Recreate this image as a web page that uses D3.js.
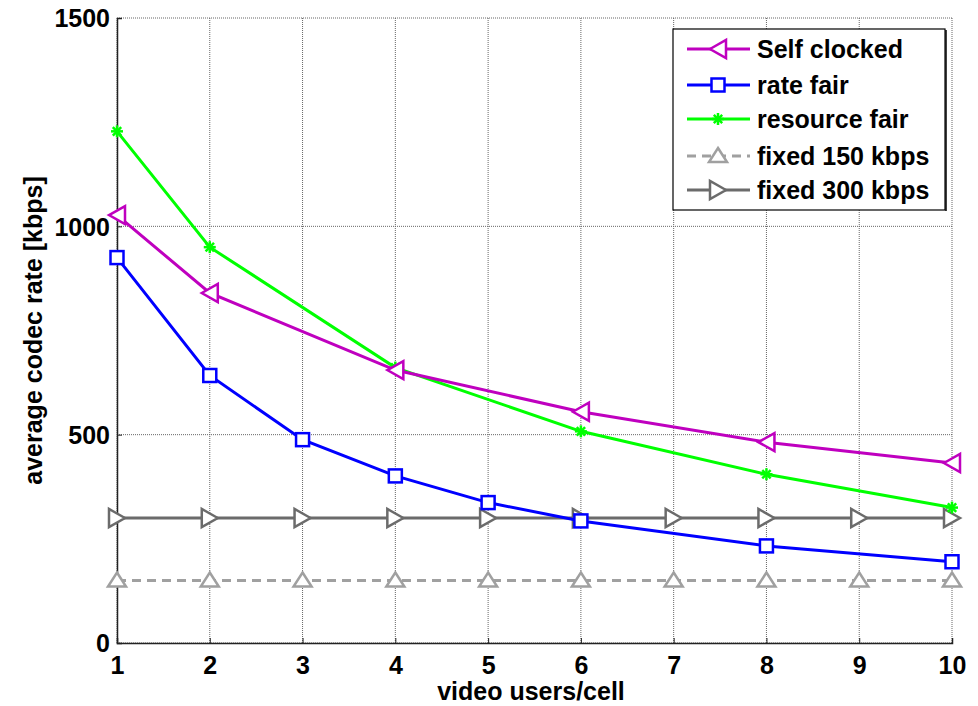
<!DOCTYPE html>
<html><head><meta charset="utf-8">
<script src="https://cdn.jsdelivr.net/npm/d3@7"></script>
<style>body{margin:0;background:#fff}svg text{font-family:"Liberation Sans",Arial,sans-serif;font-weight:bold}</style>
</head><body><svg id="c" width="978" height="706"></svg>
<script>
const xTicks = [1,2,3,4,5,6,7,8,9,10];
const yTicks = [0,500,1000,1500];
const selfX = [1,2,4,6,8,10];
const selfY = [1027,840,655,555,482,432];
const rateX = [1,2,3,4,5,6,8,10];
const rateY = [925,642,488,401,337,293,233,195];
const resX = [1,2,4,6,8,10];
const resY = [1228,950,661,508,405,325];
const fix150X = [1,2,3,4,5,6,7,8,9,10];
const fix150Y = [150,150,150,150,150,150,150,150,150,150];
const fix300X = [1,2,3,4,5,6,7,8,9,10];
const fix300Y = [300,300,300,300,300,300,300,300,300,300];
const seriesNames = ["Self clocked","rate fair","resource fair","fixed 150 kbps","fixed 300 kbps"];

const FS = 25;
const svg = d3.select("#c");
const L=117, R=952, T=18, B=643;
const x = d3.scaleLinear().domain([1,10]).range([L,R]);
const y = d3.scaleLinear().domain([0,1500]).range([B,T]);

// grid
const g = svg.append("g");
xTicks.forEach(t=>g.append("line").attr("x1",x(t)).attr("x2",x(t)).attr("y1",T).attr("y2",B)
  .attr("stroke","#666").attr("stroke-width",1).attr("stroke-dasharray","1,1"));
yTicks.forEach(t=>g.append("line").attr("x1",L).attr("x2",R).attr("y1",y(t)).attr("y2",y(t))
  .attr("stroke","#666").attr("stroke-width",1).attr("stroke-dasharray","1,1"));

// axes
const xa = svg.append("g").attr("transform",`translate(0,${B})`)
  .call(d3.axisBottom(x).tickValues(xTicks).tickSize(-5).tickPadding(13).tickFormat(d3.format("d")));
const ya = svg.append("g").attr("transform",`translate(${L},0)`)
  .call(d3.axisLeft(y).tickValues(yTicks).tickSize(-5).tickPadding(7).tickFormat(d3.format("d")));
[xa,ya].forEach(a=>{a.select(".domain").attr("stroke","#222").attr("stroke-width",1.5);
  a.selectAll(".tick line").attr("stroke","#222");
  a.selectAll("text").attr("font-size",FS).attr("fill","#000").attr("font-family","Liberation Sans, Arial").attr("font-weight","bold");});
ya.selectAll("text").attr("dy","0.35em");

svg.append("text").attr("x",531).attr("y",700).attr("text-anchor","middle").attr("font-size",FS).text("video users/cell");
svg.append("text").attr("transform",`translate(42,${(T+B)/2}) rotate(-90)`).attr("text-anchor","middle").attr("font-size",FS).text("average codec rate [kbps]");

function marker(sel, type, color){
  const s=8;
  if(type==="left") sel.append("path").attr("d",`M${-s},0L${s},${-s-1}L${s},${s+1}Z`).attr("fill","#fff").attr("stroke",color).attr("stroke-width",2.5);
  else if(type==="right") sel.append("path").attr("d",`M${s},0L${-s},${-s-1}L${-s},${s+1}Z`).attr("fill","#fff").attr("stroke",color).attr("stroke-width",2.5);
  else if(type==="up") sel.append("path").attr("d",`M0,${-s}L${s+1},${s*0.75}L${-s-1},${s*0.75}Z`).attr("fill","#fff").attr("stroke",color).attr("stroke-width",2.5);
  else if(type==="square") sel.append("rect").attr("x",-6.5).attr("y",-6.5).attr("width",13).attr("height",13).attr("fill","#fff").attr("stroke",color).attr("stroke-width",2.5);
  else if(type==="star"){
    const r=6;
    [[-r,0,r,0],[0,-r,0,r],[-r*0.7,-r*0.7,r*0.7,r*0.7],[-r*0.7,r*0.7,r*0.7,-r*0.7]].forEach(l=>
      sel.append("line").attr("x1",l[0]).attr("y1",l[1]).attr("x2",l[2]).attr("y2",l[3]).attr("stroke",color).attr("stroke-width",2.5));
  }
}

const series = [
  {name:seriesNames[4], xs:fix300X, ys:fix300Y, color:"#6b6b6b", dash:null, m:"right"},
  {name:seriesNames[3], xs:fix150X, ys:fix150Y, color:"#a0a0a0", dash:"9,6", m:"up"},
  {name:seriesNames[1], xs:rateX, ys:rateY, color:"#0000ff", dash:null, m:"square"},
  {name:seriesNames[2], xs:resX, ys:resY, color:"#00ff00", dash:null, m:"star"},
  {name:seriesNames[0], xs:selfX, ys:selfY, color:"#bf00bf", dash:null, m:"left"},
];
const line = d3.line().x(d=>x(d[0])).y(d=>y(d[1]));
series.forEach(s=>{
  const pts = s.xs.map((v,i)=>[v,s.ys[i]]);
  svg.append("path").attr("d",line(pts)).attr("fill","none").attr("stroke",s.color).attr("stroke-width",3)
    .attr("stroke-dasharray",s.dash);
  pts.forEach(p=>marker(svg.append("g").attr("transform",`translate(${x(p[0])},${y(p[1])})`),s.m,s.color));
});

// legend
const leg = svg.append("g");
leg.append("rect").attr("x",673).attr("y",29).attr("width",272).attr("height",181).attr("fill","#fff").attr("stroke","#000").attr("stroke-width",1.2);
leg.append("line").attr("x1",946).attr("x2",946).attr("y1",30).attr("y2",211).attr("stroke","#000").attr("stroke-width",1.5);
const legOrder = [
  {name:seriesNames[0], color:"#bf00bf", dash:null, m:"left"},
  {name:seriesNames[1], color:"#0000ff", dash:null, m:"square"},
  {name:seriesNames[2], color:"#00ff00", dash:null, m:"star"},
  {name:seriesNames[3], color:"#a0a0a0", dash:"9,6", m:"up"},
  {name:seriesNames[4], color:"#6b6b6b", dash:null, m:"right"},
];
const rowY=[49,85,119,156,190];
legOrder.forEach((s,i)=>{
  const yy=rowY[i];
  leg.append("line").attr("x1",687).attr("x2",750).attr("y1",yy).attr("y2",yy).attr("stroke",s.color).attr("stroke-width",3).attr("stroke-dasharray",s.dash);
  marker(leg.append("g").attr("transform",`translate(718,${yy})`),s.m,s.color);
  leg.append("text").attr("x",757).attr("y",yy).attr("dy","0.36em").attr("font-size",FS).text(s.name);
});
</script></body></html>
